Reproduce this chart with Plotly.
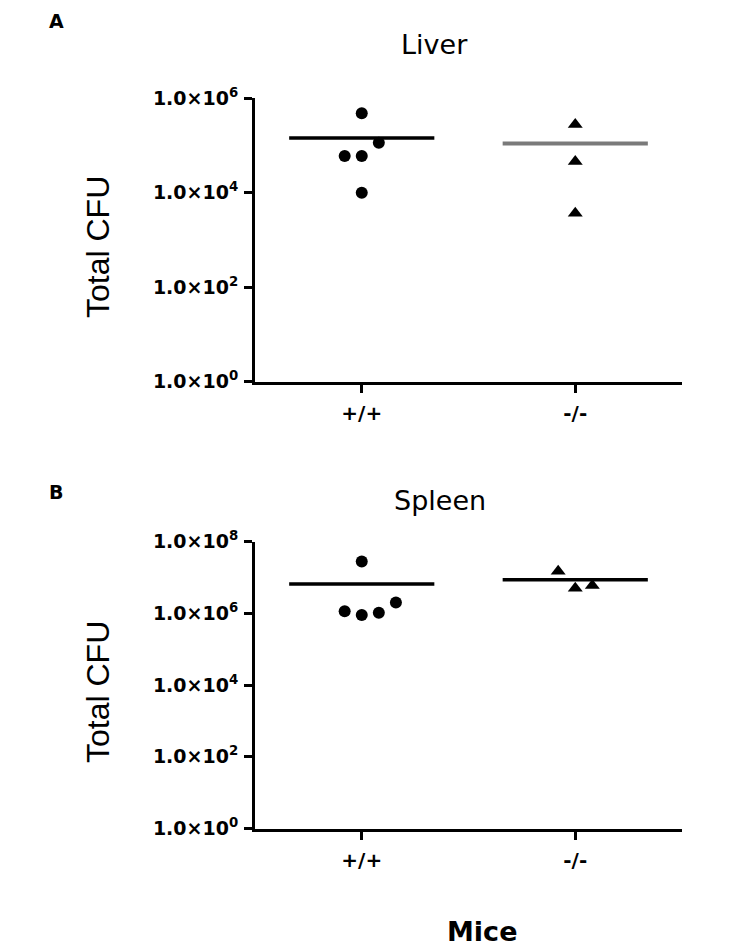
import numpy as np
import plotly.graph_objects as go

# ---- data ----
categories = ["+/+", "-/-"]
liver_wt = [4.8e5, 1.15e5, 6.0e4, 6.0e4, 1.0e4]
liver_wt_offsets = [0.0, 0.08, -0.08, 0.0, 0.0]
liver_ko = [2.8e5, 4.6e4, 3.7e3]
liver_ko_offsets = [0.0, 0.0, 0.0]
spleen_wt = [2.8e7, 1.15e6, 9.0e5, 1.04e6, 2.0e6]
spleen_wt_offsets = [0.0, -0.08, 0.0, 0.08, 0.16]
spleen_ko = [1.5e7, 5.0e6, 6.0e6]
spleen_ko_offsets = [-0.08, 0.0, 0.08]
liver_ticks = [1, 1e2, 1e4, 1e6]
liver_ticktext = ["1.0×10<sup>0</sup>", "1.0×10<sup>2</sup>", "1.0×10<sup>4</sup>", "1.0×10<sup>6</sup>"]
spleen_ticks = [1, 1e2, 1e4, 1e6, 1e8]
spleen_ticktext = ["1.0×10<sup>0</sup>", "1.0×10<sup>2</sup>", "1.0×10<sup>4</sup>",
                   "1.0×10<sup>6</sup>", "1.0×10<sup>8</sup>"]

W, H = 750, 946
def px(x): return x / W
def py(y): return 1 - y / H

fig = go.Figure()

def add_group(xaxis, yaxis, cat, vals, offs, symbol, size, line_color, lw):
    xs = [cat + o for o in offs]
    fig.add_trace(go.Scatter(x=xs, y=vals, mode="markers", xaxis=xaxis, yaxis=yaxis,
                             marker=dict(symbol=symbol, size=size, color="black"),
                             showlegend=False, hoverinfo="y", cliponaxis=False))
    m = float(np.mean(vals))
    fig.add_trace(go.Scatter(x=[cat - 0.34, cat + 0.34], y=[m, m], mode="lines",
                             xaxis=xaxis, yaxis=yaxis,
                             line=dict(color=line_color, width=lw),
                             showlegend=False, hoverinfo="skip"))

add_group("x", "y", 0, liver_wt, liver_wt_offsets, "circle", 12, "black", 3.5)
add_group("x", "y", 1, liver_ko, liver_ko_offsets, "triangle-up", 13, "#7a7a7a", 4)
add_group("x2", "y2", 0, spleen_wt, spleen_wt_offsets, "circle", 12, "black", 3.5)
add_group("x2", "y2", 1, spleen_ko, spleen_ko_offsets, "triangle-up", 13, "black", 3.5)

tickfont = dict(family="DejaVu Sans", size=19, color="black", weight="bold")
xcommon = dict(range=[-0.5, 1.5], tickmode="array", tickvals=[0, 1], ticktext=categories,
               showline=True, linewidth=3, linecolor="black", ticks="outside",
               ticklen=8, tickwidth=3, tickcolor="black", showgrid=False, zeroline=False,
               tickfont=dict(family="DejaVu Sans", size=20, color="black", weight="bold"),
               ticklabelstandoff=3, domain=[px(255), px(682)], automargin=False)
ycommon = dict(type="log", showline=True, linewidth=3, linecolor="black", ticks="outside",
               ticklen=8, tickwidth=3, tickcolor="black", showgrid=False, zeroline=False,
               tickfont=tickfont, tickmode="array", automargin=False, ticklabelstandoff=2)

fig.update_layout(
    width=W, height=H, margin=dict(l=0, r=0, t=0, b=0, autoexpand=False),
    paper_bgcolor="white", plot_bgcolor="white", showlegend=False,
    xaxis=dict(**xcommon, anchor="y"),
    yaxis=dict(**ycommon, range=[0, 6], tickvals=liver_ticks, ticktext=liver_ticktext,
               domain=[py(381.7), py(98.3)], anchor="x"),
    xaxis2=dict(**xcommon, anchor="y2"),
    yaxis2=dict(**ycommon, range=[0, 8], tickvals=spleen_ticks, ticktext=spleen_ticktext,
                domain=[py(828.5), py(541.7)], anchor="x2"),
)

def ann(text, x, y, size, weight="normal", angle=0, family="DejaVu Sans"):
    fig.add_annotation(text=text, x=px(x), y=py(y), xref="paper", yref="paper",
                       showarrow=False, textangle=angle, xanchor="center", yanchor="middle",
                       font=dict(family=family, size=size, color="black", weight=weight))

ann("A", 56, 21, 19, "bold")
ann("B", 56, 492, 19, "bold")
ann("Liver", 434, 45, 27)
ann("Spleen", 440, 500, 27)
ann("Total CFU", 98, 247, 32, angle=-90, family="Liberation Sans")
ann("Total CFU", 98, 692, 32, angle=-90, family="Liberation Sans")
ann("Mice", 482, 931, 27, "bold")

fig.write_html("out.html", config={"displayModeBar": False},
               post_script="document.body.style.margin='0';document.body.style.overflow='hidden';")
